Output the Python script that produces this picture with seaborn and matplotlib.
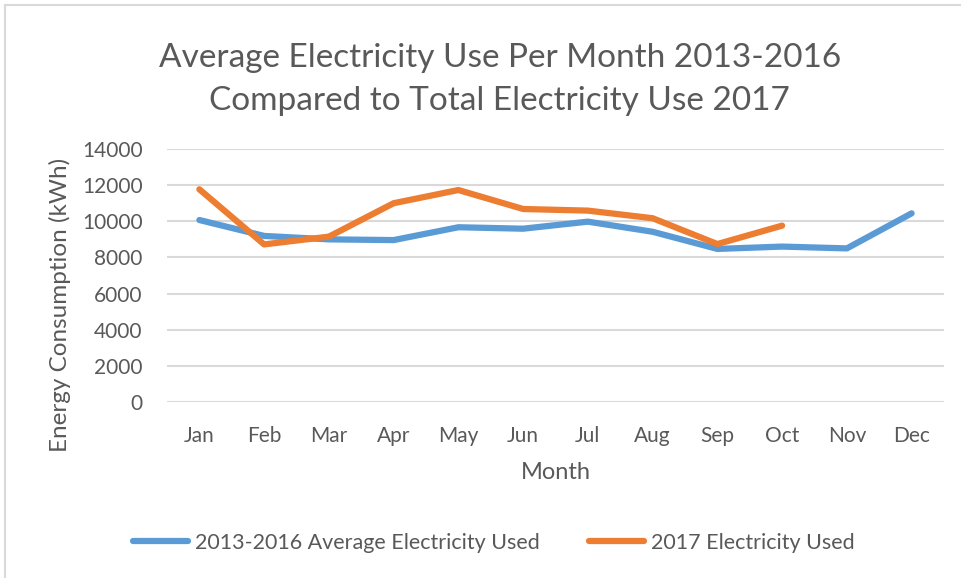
import numpy as np
import pandas as pd
import matplotlib
matplotlib.use("Agg")
import matplotlib.pyplot as plt
from matplotlib.lines import Line2D
import seaborn as sns

months = ["Jan", "Feb", "Mar", "Apr", "May", "Jun",
          "Jul", "Aug", "Sep", "Oct", "Nov", "Dec"]
avg_2013_2016 = [10070, 9190, 9000, 8960, 9670, 9590,
                 9980, 9420, 8470, 8600, 8500, 10440]
use_2017 = [11770, 8720, 9150, 11000, 11730, 10680,
            10590, 10170, 8740, 9760, np.nan, np.nan]
series_names = ["2013-2016 Average Electricity Used", "2017 Electricity Used"]
y_ticks = [0, 2000, 4000, 6000, 8000, 10000, 12000, 14000]

colors = ["#5B9BD5", "#ED7D31"]
text_color = "#595959"

sns.set_theme(style="white")
plt.rcParams["font.family"] = ["Lato", "DejaVu Sans"]

df = pd.DataFrame({
    "idx": list(range(len(months))) * 2,
    "value": avg_2013_2016 + use_2017,
    "series": [series_names[0]] * len(months) + [series_names[1]] * len(months),
}).dropna()

fig = plt.figure(figsize=(9.61, 5.78), dpi=100)
ax = fig.add_axes([167 / 961, 1 - 402 / 578, (944 - 167) / 961, (402 - 149) / 578])

sns.lineplot(data=df, x="idx", y="value", hue="series", palette=colors,
             hue_order=series_names, linewidth=4.5, sort=False,
             legend=False, ax=ax, solid_capstyle="round")

ax.set_xlim(-0.5, 11.5)
ax.set_ylim(0, 14000)
ax.set_yticks(y_ticks)
ax.set_yticklabels([str(t) for t in y_ticks])
ax.set_xticks(range(len(months)))
ax.set_xticklabels(months)
ax.yaxis.grid(True, color="#D9D9D9", linewidth=1.5)
ax.xaxis.grid(False)
ax.set_axisbelow(True)
for s in ax.spines.values():
    s.set_visible(False)
ax.tick_params(axis="both", length=0, labelsize=15, colors=text_color)
ax.tick_params(axis="x", pad=17)
ax.tick_params(axis="y", pad=17.5)

ax.set_xlabel("Month", fontsize=17, color=text_color, labelpad=12)
ax.set_ylabel("Energy Consumption (kWh)", fontsize=17.5, color=text_color)
ax.yaxis.set_label_coords(-0.123, 0.383)

fig.text(0.52, 1 - 58 / 578, "Average Electricity Use Per Month 2013-2016",
         ha="center", va="center", fontsize=24, color=text_color)
fig.text(0.52, 1 - 101 / 578, "Compared to Total Electricity Use 2017",
         ha="center", va="center", fontsize=24, color=text_color)

handles = [Line2D([0], [0], color=c, linewidth=4.5, solid_capstyle="round") for c in colors]
fig.legend(handles, series_names, loc="center", bbox_to_anchor=(0.514, 1 - 543 / 578),
           ncol=2, frameon=False, fontsize=15.5, handlelength=2.56, handletextpad=0.33,
           columnspacing=2.3, labelcolor=text_color)

# light frame along the top and left edges
fig.add_artist(Line2D([5 / 961, 5 / 961], [0, 1 - 5 / 578], color="#D9D9D9",
                      linewidth=1.5, transform=fig.transFigure))
fig.add_artist(Line2D([5 / 961, 1], [1 - 5 / 578, 1 - 5 / 578], color="#D9D9D9",
                      linewidth=1.5, transform=fig.transFigure))

fig.savefig("out.png", dpi=100)
